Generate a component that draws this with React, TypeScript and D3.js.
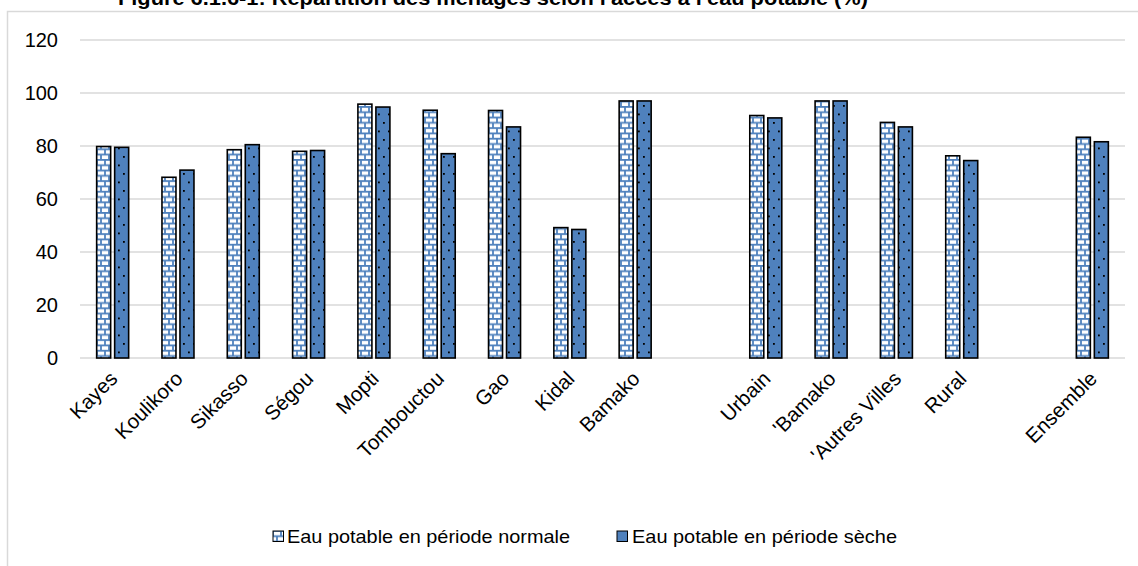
import React from "react";
import * as d3 from "d3";

const categories = ["Kayes", "Koulikoro", "Sikasso", "Ségou", "Mopti", "Tombouctou", "Gao", "Kidal", "Bamako", "", "Urbain", "'Bamako", "'Autres Villes", "Rural", " ", "Ensemble"];
const normale: (number | null)[] = [79.8, 68.2, 78.6, 78.0, 95.8, 93.5, 93.4, 49.2, 97.0, null, 91.5, 97.0, 88.9, 76.3, null, 83.3];
const seche: (number | null)[] = [79.5, 70.9, 80.5, 78.3, 94.7, 77.1, 87.2, 48.5, 97.0, null, 90.6, 97.0, 87.2, 74.5, null, 81.6];
const yTicks = [0, 20, 40, 60, 80, 100, 120];
const seriesNames = ["Eau potable en période normale", "Eau potable en période sèche"];
const title = "Figure 6.1.6-1: Répartition des ménages selon l'accès à l'eau potable (%)";

const W = 1138, H = 566;
const BLUE = "#4f81bd";
const FONT = "'Liberation Sans', Arial, sans-serif";

export default function App() {
  const x = d3.scaleBand<string>().domain(categories).range([80, 1125]).padding(0);
  const y = d3.scaleLinear().domain([0, 120]).range([358, 40]);
  const bw = 14, gap = 4;
  return (
    <svg width={W} height={H} style={{ position: "absolute", left: 0, top: 0 }}>
      <defs>
        <pattern id="brick" patternUnits="userSpaceOnUse" width="8" height="10.6">
          <rect width="8" height="10.6" fill="#fff" />
          <line x1="0" x2="8" y1="0.9" y2="0.9" stroke={BLUE} strokeWidth="1.8" />
          <line x1="0" x2="8" y1="6.2" y2="6.2" stroke={BLUE} strokeWidth="1.8" />
          <line x1="1" x2="1" y1="0" y2="6" stroke={BLUE} strokeWidth="1.8" />
          <line x1="5" x2="5" y1="6" y2="10.6" stroke={BLUE} strokeWidth="1.8" />
        </pattern>
        <pattern id="dots" patternUnits="userSpaceOnUse" width="10" height="17">
          <rect width="10" height="17" fill={BLUE} />
          <rect x="3" y="3" width="1.8" height="1.8" fill="#000" />
          <rect x="8" y="11.5" width="1.8" height="1.8" fill="#000" />
        </pattern>
      </defs>
      <rect x={0} y={0} width={W} height={H} fill="#fff" />
      <rect x={7.5} y={11.5} width={W + 20} height={H + 20} fill="none" stroke="#d9d9d9" strokeWidth={1.5} />
      <text x={493} y={5} textAnchor="middle" fontFamily={FONT} fontWeight="bold" fontSize={21} textLength={750} lengthAdjust="spacingAndGlyphs">{title}</text>
      {yTicks.map((t) => (
        <g key={t}>
          <line x1={80} x2={1125} y1={y(t)} y2={y(t)} stroke="#d9d9d9" strokeWidth={1.5} />
          <text x={58} y={y(t)} dy="0.36em" textAnchor="end" fontFamily={FONT} fontSize={20}>{t}</text>
        </g>
      ))}
      {categories.map((c, i) => {
        const cx = (x(c) ?? 0) + x.bandwidth() / 2;
        const n = normale[i], s = seche[i];
        return (
          <g key={c + i}>
            {n != null && (
              <rect x={cx - gap / 2 - bw} y={y(n)} width={bw} height={y(0) - y(n)} fill="url(#brick)" stroke="#000" strokeWidth={1.6} />
            )}
            {s != null && (
              <rect x={cx + gap / 2} y={y(s)} width={bw} height={y(0) - y(s)} fill="url(#dots)" stroke="#000" strokeWidth={1.6} />
            )}
            {c.trim() !== "" && (
              <text transform={`translate(${cx + 6},${380}) rotate(-45)`} textAnchor="end" fontFamily={FONT} fontSize={20.5}>{c}</text>
            )}
          </g>
        );
      })}
      <g>
        <rect x={273} y={531} width={10.5} height={10.5} fill="url(#brick)" stroke="#000" strokeWidth={1} />
        <text x={287} y={543} fontFamily={FONT} fontSize={19} textLength={283} lengthAdjust="spacingAndGlyphs">{seriesNames[0]}</text>
        <rect x={617} y={531} width={10.5} height={10.5} fill={BLUE} stroke="#000" strokeWidth={1} />
        <text x={632} y={543} fontFamily={FONT} fontSize={19} textLength={265} lengthAdjust="spacingAndGlyphs">{seriesNames[1]}</text>
      </g>
    </svg>
  );
}
